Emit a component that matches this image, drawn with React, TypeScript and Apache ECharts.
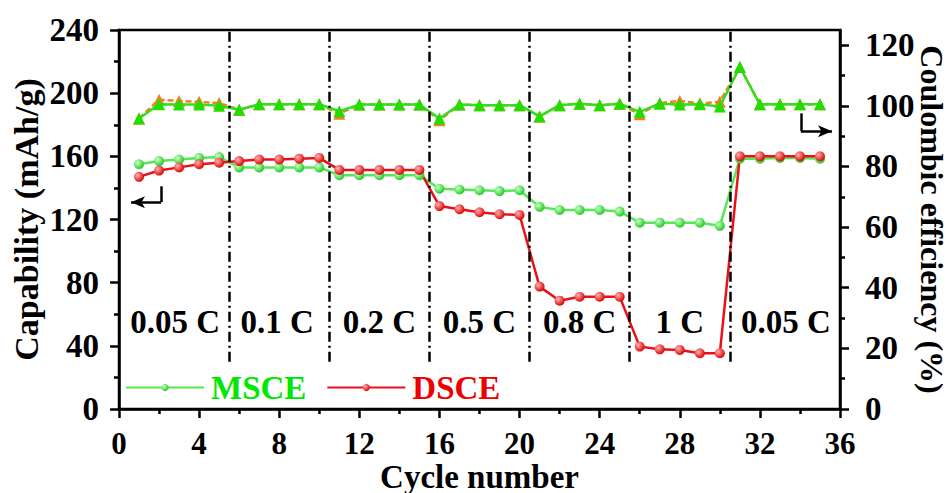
import React, { useEffect, useRef } from "react";
import * as echarts from "echarts";

const cycles = [1,2,3,4,5,6,7,8,9,10,11,12,13,14,15,16,17,18,19,20,21,22,23,24,25,26,27,28,29,30,31,32,33,34,35];
const msceCapacity = [155,157,158,159,159.5, 153,153,153,153,153, 148,148,148,148,148, 139.5,139,138.5,138,138.5, 128,126,126,126,125, 118,118,118,118,116, 158.5,158.5,159,159,158.5];
const dsceCapacity = [147,151,153,155,156, 157,158,158,158.5,159, 151.4,151.4,151.4,151.4,151.4, 128.5,126.5,124.6,123.3,122.9, 77.5,68.6,71.1,71.1,71.1, 39.5,37.8,37.4,35.3,35.3, 160,160,160,160,160];
const msceCE = [95.8,100.5,100.4,100.4,100, 98.7,100.5,100.5,100.5,100.5, 98.2,100.4,100.4,100.4,100.4, 95.8,100.4,100.2,100.2,100.2, 96.5,100.2,100.7,100.2,100.7, 98,100.7,100.4,100.5,99.8, 112.8,100.5,100.5,100.5,100.5];
const dsceCE = [95.8,102,101.6,101.3,100.9, 98.7,100.5,100.5,100.5,100.5, 97.4,100.4,100.4,100.4,100.4, 95.2,100.4,100.2,100.2,100.2, 96.5,100.2,100.7,100.2,100.7, 97.2,100.9,101.6,100.8,101.3, 112.8,100.5,100.5,100.5,100.5];

const xTicks = [0,4,8,12,16,20,24,28,32,36];
const leftTicks = [0,40,80,120,160,200,240];
const rightTicks = [0,20,40,60,80,100,120];
const rateBoundaries = [5.5,10.5,15.5,20.5,25.5,30.5];
const rateLabels = ["0.05 C","0.1 C","0.2 C","0.5 C","0.8 C","1 C","0.05 C"];
const rateLabelX = [2.8,7.9,13,18,23,28,33.3];
const rateLabelY = 55;
const leftArrow = [[2.1,141],[2.1,131],[0.6,131]];
const rightArrow = [[34.05,97.5],[34.05,91.6],[35.6,91.6]];

const FONT = "'Liberation Serif', 'Times New Roman', serif";
const GREEN_LINE = "#55e855";
const RED = "#e8111a";
const ORANGE = "#f0801e";
const GREEN_TRI = "#22dd00";

const ball = (light: string, dark: string) => new echarts.graphic.RadialGradient(0.35, 0.35, 0.7, [
  { offset: 0, color: light },
  { offset: 1, color: dark },
]);

export default function App() {
  const ref = useRef<HTMLDivElement>(null);
  useEffect(() => {
    const chart = echarts.init(ref.current!, null, { renderer: "svg" });
    const axisLine = { show: true, lineStyle: { color: "#000", width: 2.5 } };
    const labelStyle = { fontFamily: FONT, fontWeight: "bold" as const, fontSize: 33, color: "#000" };
    const titleStyle = { fontFamily: FONT, fontWeight: "bold" as const, fontSize: 34, color: "#000" };
    const arrowLine = (pts: number[][]) => ({
      silent: true,
      symbol: ["none", "none"],
      lineStyle: { color: "#000", width: 2.5, type: "solid" as const },
      label: { show: false },
      data: [
        [{ coord: pts[0] }, { coord: pts[1] }],
        [{ coord: pts[1] }, { coord: pts[2], symbol: "arrow", symbolSize: [9, 14] }],
      ],
    });
    chart.setOption({
      animation: false,
      backgroundColor: "#fff",
      grid: {
        left: 119, right: 112, top: 30, bottom: 84, show: true, borderColor: "#000", borderWidth: 2.5,
        containLabel: false, outerBoundsMode: "none",
      },
      legend: {
        left: 120,
        top: 366,
        itemWidth: 78,
        itemHeight: 9,
        itemGap: 20,
        data: [
          { name: "MSCE", textStyle: { color: "#00e800" } },
          { name: "DSCE", textStyle: { color: "#ee0000" } },
        ],
        textStyle: { fontFamily: FONT, fontWeight: "bold", fontSize: 33, padding: [0, 0, 0, 2] },
      },
      xAxis: {
        type: "value", min: 0, max: 36, interval: 4,
        axisLine, splitLine: { show: false },
        axisTick: { show: true, length: 9, lineStyle: { width: 2.5, color: "#000" } },
        minorTick: { show: true, splitNumber: 2, length: 5, lineStyle: { width: 2.5, color: "#000" } },
        axisLabel: { ...labelStyle, fontSize: 31, margin: 19, customValues: xTicks },
        name: "Cycle number", nameLocation: "middle", nameGap: 51, nameMoveOverlap: false,
        nameTextStyle: { ...titleStyle, fontSize: 33 },
      },
      yAxis: [
        {
          type: "value", min: 0, max: 240, interval: 40, position: "left",
          axisLine, splitLine: { show: false },
          axisTick: { show: true, length: 9, lineStyle: { width: 2.5, color: "#000" } },
          minorTick: { show: true, splitNumber: 2, length: 5, lineStyle: { width: 2.5, color: "#000" } },
          axisLabel: { ...labelStyle, margin: 20, customValues: leftTicks },
          name: "Capability (mAh/g)", nameLocation: "middle", nameGap: 76, nameMoveOverlap: false,
          nameTextStyle: titleStyle,
        },
        {
          type: "value", min: 0, max: 125, interval: 20, position: "right",
          axisLine, splitLine: { show: false },
          axisTick: { show: true, length: 9, lineStyle: { width: 2.5, color: "#000" }, customValues: rightTicks },
          minorTick: { show: true, splitNumber: 2, length: 5, lineStyle: { width: 2.5, color: "#000" } },
          axisLabel: { ...labelStyle, margin: 25, customValues: rightTicks },
          name: "Coulombic efficiency (%)", nameLocation: "middle", nameGap: 77, nameRotate: -90,
          nameMoveOverlap: false,
          nameTextStyle: { ...titleStyle, fontSize: 32, lineHeight: 30 },
        },
      ],
      series: [
        {
          name: "DSCE_CE", type: "line", yAxisIndex: 1,
          data: cycles.map((c, i) => [c, dsceCE[i]]),
          symbol: "triangle", symbolSize: 12,
          itemStyle: { color: ORANGE },
          lineStyle: { color: ORANGE, width: 2.5, type: [6, 3] },
          z: 2,
        },
        {
          name: "MSCE_CE", type: "line", yAxisIndex: 1,
          data: cycles.map((c, i) => [c, msceCE[i]]),
          symbol: "triangle", symbolSize: 12,
          itemStyle: { color: GREEN_TRI },
          lineStyle: { color: "#33dd22", width: 2.5 },
          z: 3,
          markLine: arrowLine(rightArrow),
        },
        {
          name: "MSCE", type: "line", yAxisIndex: 0,
          data: cycles.map((c, i) => [c, msceCapacity[i]]),
          symbol: "circle", symbolSize: 10,
          itemStyle: { color: ball("#c8ffc8", "#1ec81e"), borderWidth: 0 },
          lineStyle: { color: GREEN_LINE, width: 2.5 },
          z: 4,
        },
        {
          name: "DSCE", type: "line", yAxisIndex: 0,
          data: cycles.map((c, i) => [c, dsceCapacity[i]]),
          symbol: "circle", symbolSize: 10,
          itemStyle: { color: ball("#ffb0b0", "#d80000"), borderWidth: 0 },
          lineStyle: { color: RED, width: 2.5 },
          z: 4,
          markLine: arrowLine(leftArrow),
        },
        {
          name: "boundaries", type: "line", yAxisIndex: 0, data: [], z: 1,
          markLine: {
            silent: true, symbol: ["none", "none"],
            label: { show: false },
            lineStyle: { color: "#000", width: 2.5, type: [10, 4, 2, 4] },
            data: rateBoundaries.map((b) => [{ coord: [b, 30] }, { coord: [b, 240] }]),
          },
        },
        {
          name: "rates", type: "scatter", yAxisIndex: 0, symbolSize: 0, z: 5,
          itemStyle: { color: "#000", opacity: 1 },
          data: rateLabels.map((t, i) => ({ value: [rateLabelX[i], rateLabelY], name: t })),
          label: {
            show: true, position: "inside", formatter: (p: any) => p.name,
            fontFamily: FONT, fontWeight: "bold", fontSize: 33, color: "#000", opacity: 1,
            textBorderWidth: 0, textBorderColor: "transparent",
          },
        },
      ],
    });
    return () => chart.dispose();
  }, []);
  return <div ref={ref} style={{ position: "fixed", left: 0, top: 0, width: 952, height: 493 }} />;
}
